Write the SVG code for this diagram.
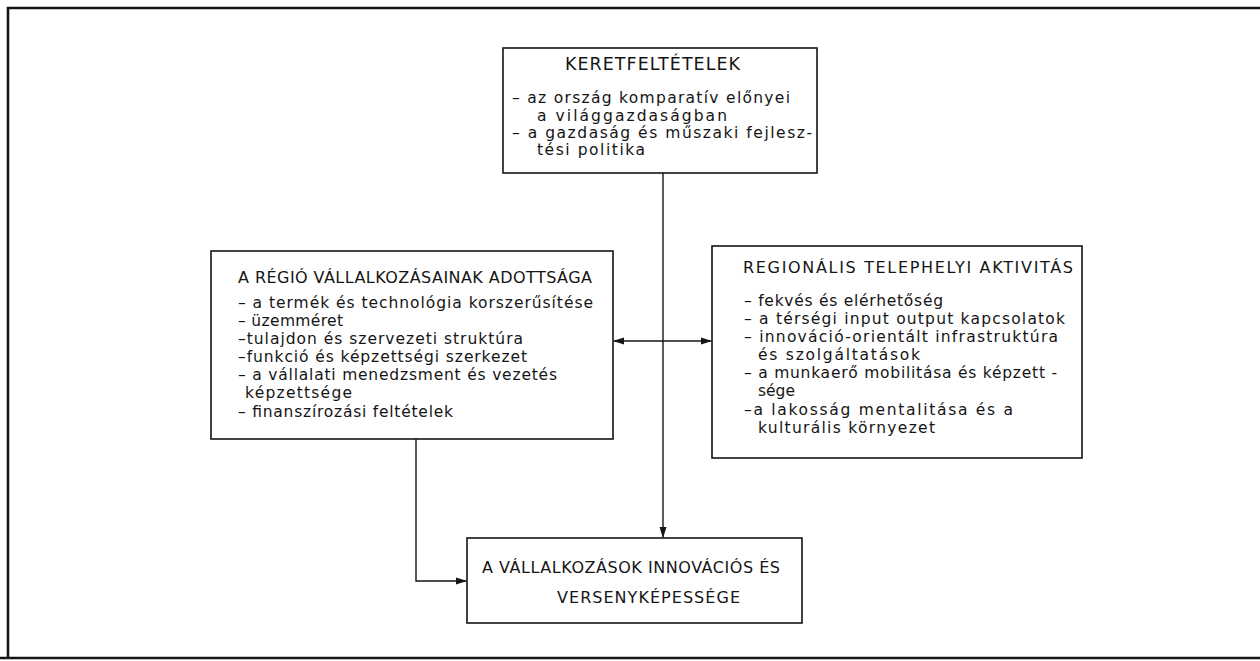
<svg xmlns="http://www.w3.org/2000/svg" width="1260" height="661" viewBox="0 0 1260 661">
<style>
.box{fill:#fff;stroke:#151515;stroke-width:1.6}
.ln{fill:none;stroke:#151515;stroke-width:1.4}
text{font-family:"DejaVu Sans","Liberation Sans",sans-serif;font-size:15.5px;fill:#151515}
.t{font-size:16px}
.tt{font-size:17.5px}
</style>
<defs>
<marker id="ah" markerWidth="11" markerHeight="8" refX="10" refY="4" orient="auto-start-reverse" markerUnits="userSpaceOnUse">
<path d="M0,0.5 L11,4 L0,7.5 Z" fill="#151515"/>
</marker>
</defs>
<rect x="0" y="0" width="1260" height="661" fill="#fff"/>
<path d="M8,658 L8,8 L1260,8" fill="none" stroke="#151515" stroke-width="2.6"/>
<path d="M0,658 L1260,658" fill="none" stroke="#151515" stroke-width="2.6"/>
<g id="connectors">
<path class="ln" d="M663,173 L663,537" marker-end="url(#ah)"/>
<path class="ln" d="M614,341 L711,341" marker-start="url(#ah)" marker-end="url(#ah)"/>
<path class="ln" d="M416,439 L416,581 L466,581" marker-end="url(#ah)"/>
</g>
<g id="keretfeltetelek">
<rect class="box" x="503" y="48" width="314" height="125"/>
<text class="tt" x="565" y="70" textLength="175" lengthAdjust="spacing">KERETFELTÉTELEK</text>
<text x="512" y="103" textLength="278" lengthAdjust="spacing">– az ország komparatív előnyei</text>
<text x="537" y="121" textLength="190" lengthAdjust="spacing">a világgazdaságban</text>
<text x="512" y="138" textLength="300" lengthAdjust="spacing">– a gazdaság és műszaki fejlesz-</text>
<text x="537" y="155" textLength="108" lengthAdjust="spacing">tési politika</text>
</g>
<g id="regio">
<rect class="box" x="211" y="251" width="402" height="188"/>
<text class="t" x="238" y="283" textLength="354" lengthAdjust="spacing">A RÉGIÓ VÁLLALKOZÁSAINAK ADOTTSÁGA</text>
<text x="238" y="308" textLength="355" lengthAdjust="spacing">– a termék és technológia korszerűsítése</text>
<text x="238" y="326" textLength="105" lengthAdjust="spacing">– üzemméret</text>
<text x="238" y="344" textLength="285" lengthAdjust="spacing">–tulajdon és szervezeti struktúra</text>
<text x="238" y="362" textLength="289" lengthAdjust="spacing">–funkció és képzettségi szerkezet</text>
<text x="238" y="380" textLength="319" lengthAdjust="spacing">– a vállalati menedzsment és vezetés</text>
<text x="245" y="398" textLength="107" lengthAdjust="spacing">képzettsége</text>
<text x="238" y="417" textLength="215" lengthAdjust="spacing">– finanszírozási feltételek</text>
</g>
<g id="regionalis">
<rect class="box" x="712" y="246" width="370" height="212"/>
<text class="t" x="743" y="273" textLength="330" lengthAdjust="spacing">REGIONÁLIS TELEPHELYI AKTIVITÁS</text>
<text x="744" y="306" textLength="199" lengthAdjust="spacing">– fekvés és elérhetőség</text>
<text x="744" y="324" textLength="321" lengthAdjust="spacing">– a térségi input output kapcsolatok</text>
<text x="744" y="342" textLength="314" lengthAdjust="spacing">– innováció-orientált infrastruktúra</text>
<text x="758" y="360" textLength="162" lengthAdjust="spacing">és szolgáltatások</text>
<text x="744" y="378" textLength="313" lengthAdjust="spacing">– a munkaerő mobilitása és képzett -</text>
<text x="758" y="396" textLength="37" lengthAdjust="spacing">sége</text>
<text x="744" y="415" textLength="269" lengthAdjust="spacing">–a lakosság mentalitása és a</text>
<text x="758" y="433" textLength="177" lengthAdjust="spacing">kulturális környezet</text>
</g>
<g id="innovacio">
<rect class="box" x="467" y="538" width="335" height="85"/>
<text class="t" x="482" y="573" textLength="298" lengthAdjust="spacing">A VÁLLALKOZÁSOK INNOVÁCIÓS ÉS</text>
<text class="t" x="557" y="603" textLength="183" lengthAdjust="spacing">VERSENYKÉPESSÉGE</text>
</g>
</svg>
